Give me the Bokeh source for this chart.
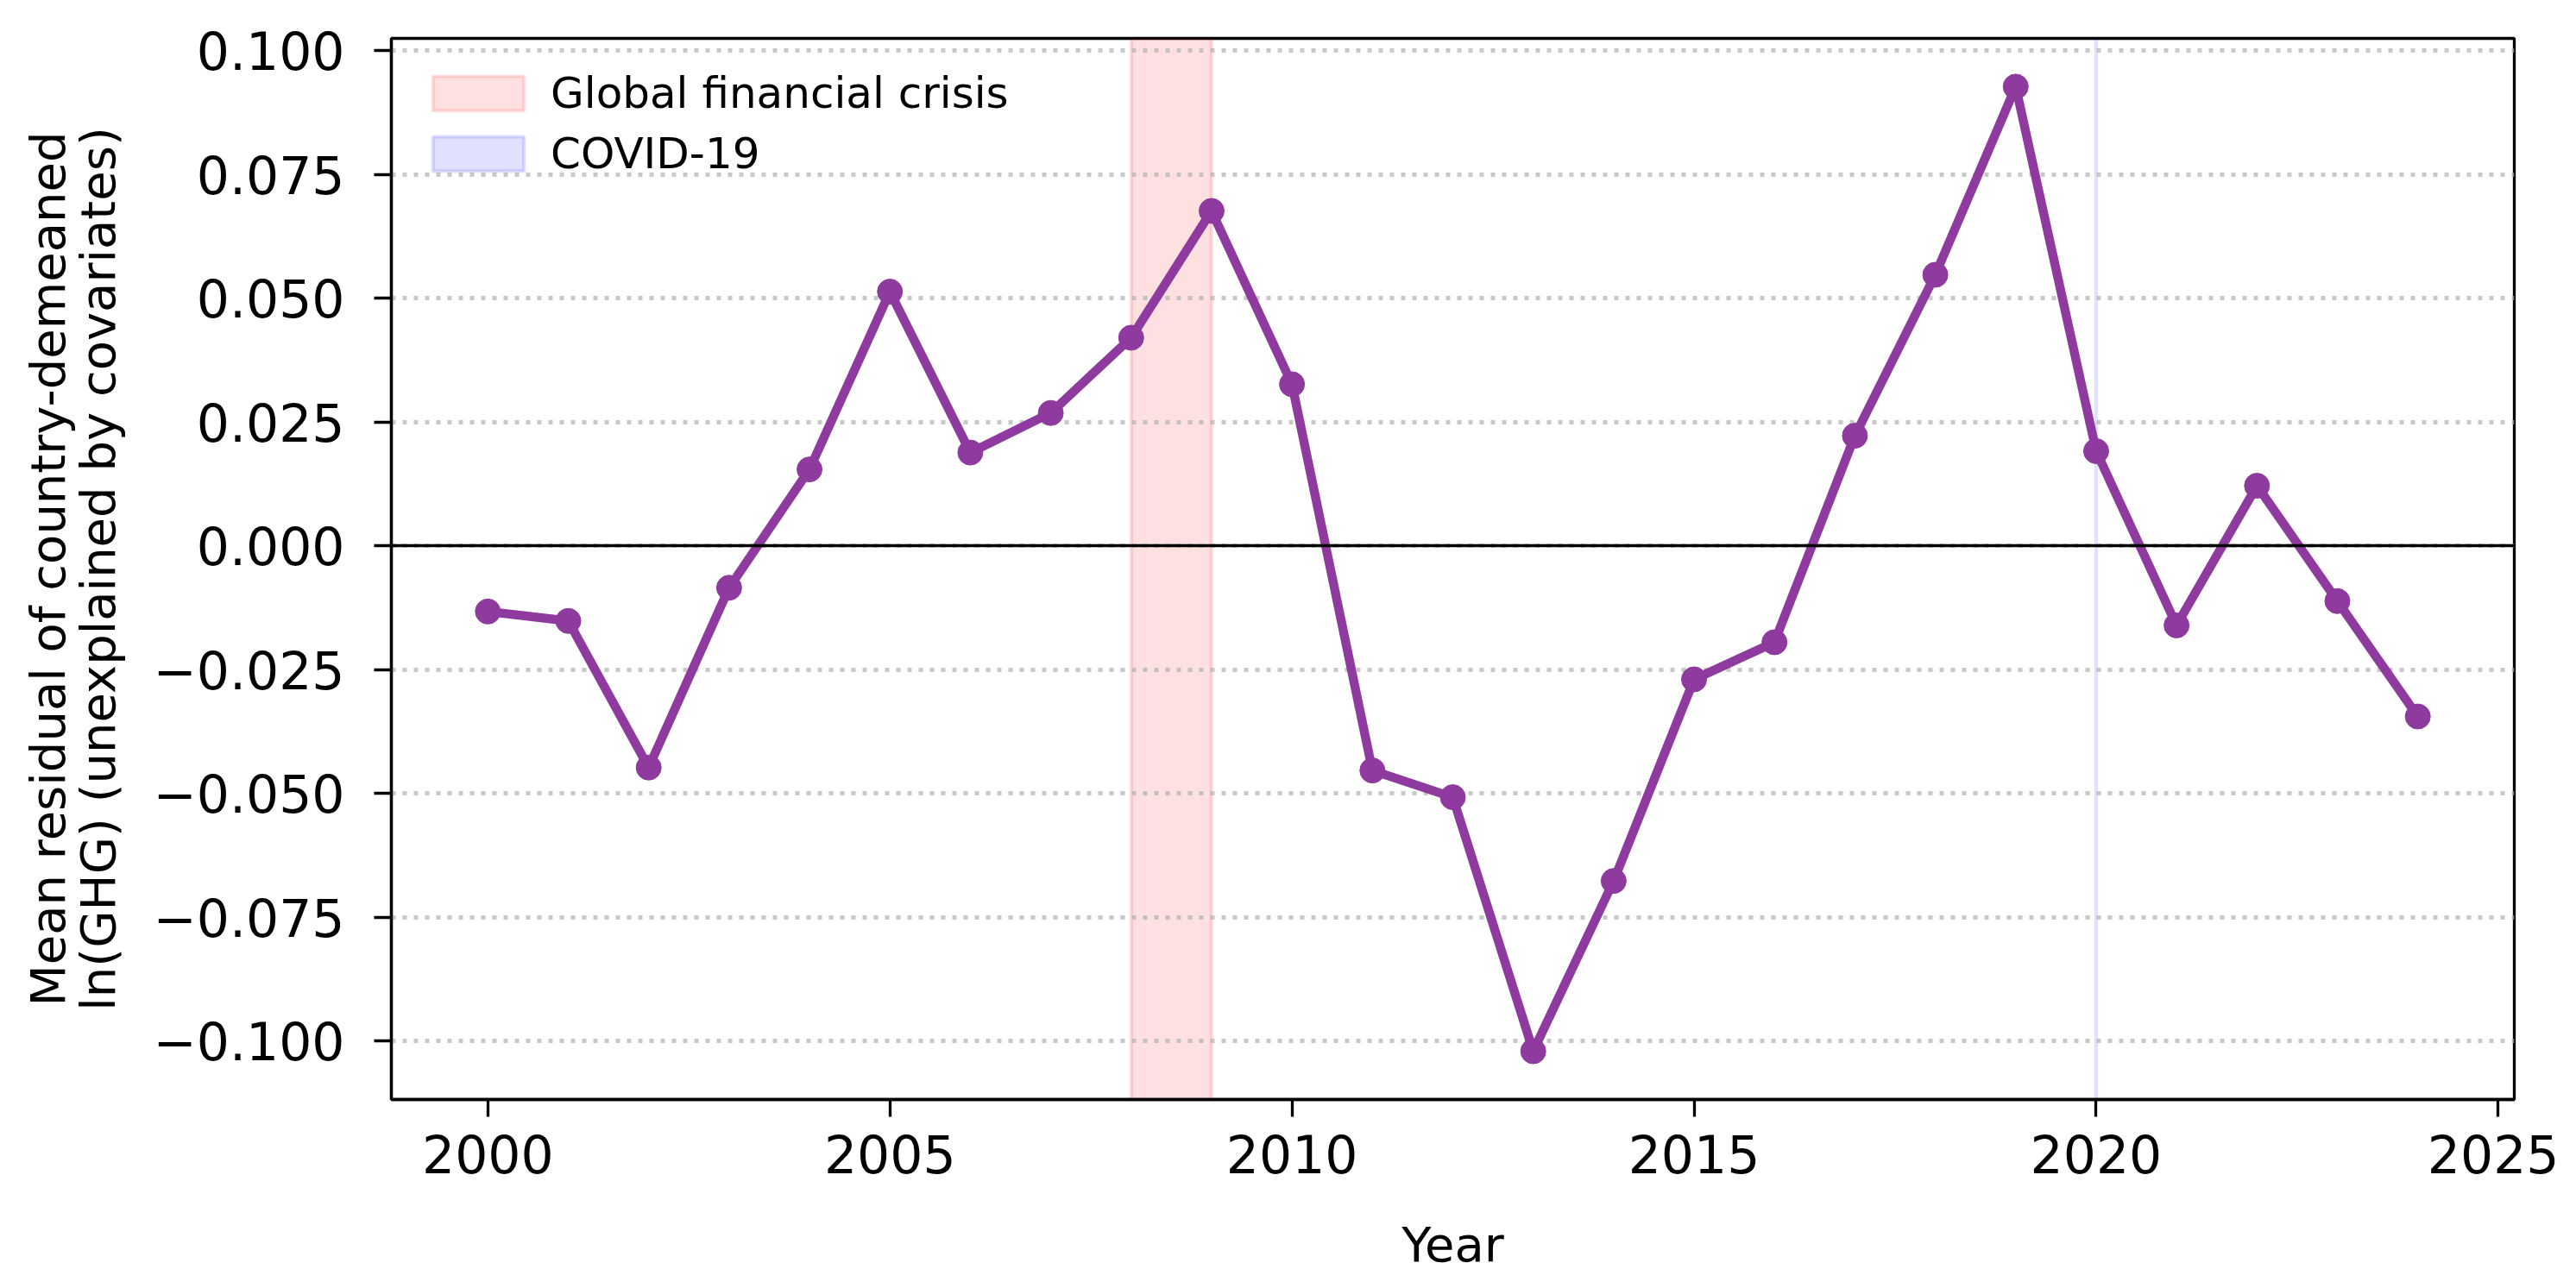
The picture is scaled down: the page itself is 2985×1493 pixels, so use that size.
from bokeh.plotting import figure
from bokeh.models import (Range1d, FixedTicker, CustomJSTickFormatter, Span,
                          Legend, LegendItem)
from bokeh.embed import file_html
from bokeh.resources import INLINE

# ---- data -------------------------------------------------------------
years = list(range(2000, 2025))
residual = [-0.0133, -0.0152, -0.0448, -0.0085, 0.0154, 0.0513, 0.0188,
            0.0268, 0.0420, 0.0676, 0.0326, -0.0454, -0.0508, -0.1021,
            -0.0677, -0.0270, -0.0195, 0.0222, 0.0547, 0.0927, 0.0191,
            -0.0161, 0.0121, -0.0112, -0.0345]

event_names = ["Global financial crisis", "COVID-19"]
event_start = [2008, 2020]
event_end = [2009, 2020]
event_colors = ["red", "blue"]

x_ticks = [2000, 2005, 2010, 2015, 2020, 2025]
y_ticks = [-0.1, -0.075, -0.05, -0.025, 0.0, 0.025, 0.05, 0.075, 0.1]

x_label = "Year"
y_label = "Mean residual of country-demeaned\nln(GHG) (unexplained by covariates)"

# ---- ranges (matplotlib-like 5% margins) ------------------------------
xspan = max(years) - min(years)
yspan = max(residual) - min(residual)
x_range = Range1d(min(years) - 0.05 * xspan, max(years) + 0.05 * xspan)
y_range = Range1d(min(residual) - 0.05 * yspan, max(residual) + 0.05 * yspan)

FONT = "DejaVu Sans"
PURPLE = "#8E3A9E"

p = figure(width=2965, height=1477, x_range=x_range, y_range=y_range,
           output_backend="svg", toolbar_location=None,
           min_border_left=453, min_border_right=52,
           min_border_top=44, min_border_bottom=192)
p.background_fill_color = "white"
p.border_fill_color = "white"
p.outline_line_color = "black"
p.outline_line_width = 3.3

# shaded event spans (below grid)
legend_items = []
for name, s, e, c in zip(event_names, event_start, event_end, event_colors):
    r = p.quad(left=[s], right=[e],
               bottom=[y_range.start - yspan], top=[y_range.end + yspan],
               fill_color=c, fill_alpha=0.12,
               line_color=c, line_alpha=0.12, line_width=4.2)
    r.level = "image"
    legend_items.append(LegendItem(label=name, renderers=[r]))

# main series
p.line(years, residual, line_color=PURPLE, line_width=10.4, line_join="round")
p.scatter(years, residual, size=29, fill_color=PURPLE, line_color=PURPLE)

# zero line
p.add_layout(Span(location=0, dimension="width", line_color="black",
                  line_width=3.3))

# grid
p.xgrid.visible = False
p.ygrid.ticker = FixedTicker(ticks=y_ticks)
p.ygrid.grid_line_color = "#b0b0b0"
p.ygrid.grid_line_alpha = 0.7
p.ygrid.grid_line_width = 5
p.ygrid.grid_line_dash = "5 8"

# axes
for ax in (p.xaxis, p.yaxis):
    ax.axis_line_color = "black"
    ax.axis_line_width = 3.3
    ax.major_tick_line_color = "black"
    ax.major_tick_line_width = 3.3
    ax.major_tick_out = 20
    ax.major_tick_in = 0
    ax.minor_tick_line_color = None
    ax.major_label_text_font = FONT
    ax.major_label_text_font_size = "60px"
    ax.major_label_text_color = "black"
    ax.axis_label_text_font = FONT
    ax.axis_label_text_font_size = "56px"
    ax.axis_label_text_font_style = "normal"
    ax.axis_label_text_color = "black"

p.xaxis.ticker = FixedTicker(ticks=x_ticks)
p.yaxis.ticker = FixedTicker(ticks=y_ticks)
p.yaxis.formatter = CustomJSTickFormatter(code="""
    const a = Math.abs(tick);
    if (a < 1e-9) { return "0.000"; }
    return (tick < 0 ? "\u2212" : "") + a.toFixed(3);
""")
p.xaxis.major_label_standoff = 20
p.yaxis.major_label_standoff = 34
p.xaxis.axis_label = x_label
p.yaxis.axis_label = y_label
p.xaxis.axis_label_standoff = 47
p.yaxis.axis_label_standoff = 28
p.yaxis.axis_label_text_line_height = 0.9

legend = Legend(items=legend_items, location="top_left",
                margin=0, padding=35, spacing=12,
                glyph_width=132, glyph_height=50, label_standoff=18,
                label_text_font=FONT, label_text_font_size="50px",
                label_text_color="black",
                border_line_alpha=0, background_fill_alpha=0)
p.add_layout(legend)

open("out.html", "w").write(file_html(p, INLINE))
